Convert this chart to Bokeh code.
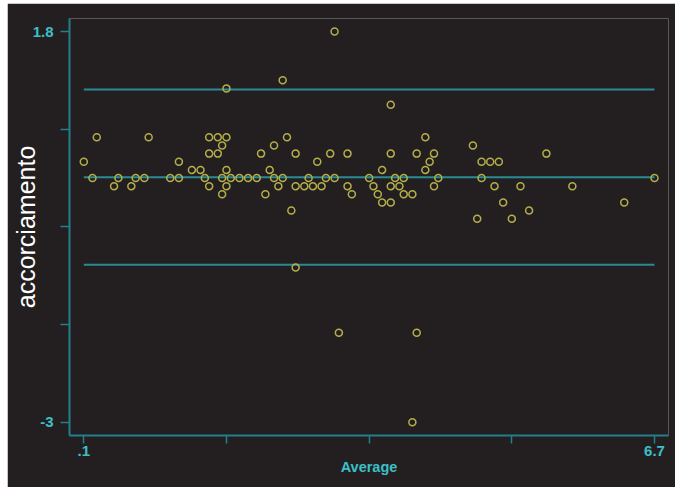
from bokeh.plotting import figure
from bokeh.models import Range1d, FixedTicker, Spacer
from bokeh.layouts import column, row
from bokeh.embed import file_html
from bokeh.resources import INLINE

# Bland-Altman data
avg = [0.1, 0.25, 0.2, 0.5, 0.45, 0.65, 0.7, 0.8, 0.85, 1.1,
       1.2, 1.2, 1.35, 1.45, 1.5, 1.55, 1.55, 1.55, 1.65, 1.65,
       1.7, 1.7, 1.7, 1.75, 1.75, 1.75, 1.75, 1.8, 1.9, 2.0,
       2.1, 2.15, 2.2, 2.25, 2.3, 2.3, 2.35, 2.4, 2.4, 2.45,
       2.5, 2.55, 2.55, 2.55, 2.65, 2.7, 2.75, 2.8, 2.85, 2.9,
       2.95, 3.0, 3.0, 3.05, 3.15, 3.15, 3.2, 3.4, 3.45, 3.5,
       3.55, 3.55, 3.65, 3.65, 3.65, 3.65, 3.7, 3.75, 3.8, 3.8,
       3.9, 3.9, 3.95, 3.95, 4.05, 4.05, 4.1, 4.15, 4.15, 4.2,
       4.6, 4.65, 4.7, 4.7, 4.8, 4.85, 4.9, 4.95, 5.05, 5.15,
       5.25, 5.45, 5.75, 6.35, 6.7]
diff = [0.2, 0.5, 0.0, 0.0, -0.1, -0.1, 0.0, 0.0, 0.5, 0.0,
        0.2, 0.0, 0.1, 0.1, 0.0, 0.5, 0.3, -0.1, 0.5, 0.3,
        0.4, 0.0, -0.2, 0.5, 0.1, -0.1, 1.1, 0.0, 0.0, 0.0,
        0.0, 0.3, -0.2, 0.1, 0.4, 0.0, -0.1, 1.2, 0.0, 0.5,
        -0.4, -1.1, 0.3, -0.1, -0.1, 0.0, -0.1, 0.2, -0.1, 0.0,
        0.3, 0.0, 1.8, -1.9, 0.3, -0.1, -0.2, 0.0, -0.1, -0.2,
        -0.3, 0.1, 0.3, -0.1, -0.3, 0.9, 0.0, -0.1, 0.0, -0.2,
        -0.2, -3.0, 0.3, -1.9, 0.5, 0.1, 0.2, 0.3, -0.1, 0.0,
        0.4, -0.5, 0.2, 0.0, 0.2, -0.1, 0.2, -0.3, -0.5, -0.1,
        -0.4, 0.3, -0.1, -0.3, 0.0]

mean_diff = 0.01
loa_upper = 1.087
loa_lower = -1.065

x_ticks = [0.1, 1.75, 3.4, 5.05, 6.7]
x_tick_labels = [".1", "", "", "", "6.7"]
y_ticks = [1.8, 0.6, -0.6, -1.8, -3.0]
y_tick_labels = ["1.8", "", "", "", "-3"]

BG = "#231f20"
AXIS = "#23808a"
LABEL = "#3cc0c8"
POINT = "#b4ae4b"
LINE = "#2a8a92"
FONT = "Liberation Sans"

p = figure(width=668, height=484, output_backend="svg", toolbar_location=None,
           x_range=Range1d(-0.0654, 6.862), y_range=Range1d(-3.163, 1.96),
           min_border_left=62, min_border_right=7, min_border_top=15, min_border_bottom=52)
p.background_fill_color = BG
p.border_fill_color = BG
p.outline_line_color = None
p.xgrid.visible = False
p.ygrid.visible = False

xa = min(avg)
xb = max(avg)
for lvl in [loa_upper, mean_diff, loa_lower]:
    p.line([xa, xb], [lvl, lvl], line_color=LINE, line_width=2)

p.scatter(avg, diff, marker="circle", size=7, fill_color=None,
          line_color=POINT, line_width=1.5)

p.xaxis.ticker = FixedTicker(ticks=x_ticks)
p.xaxis.major_label_overrides = {t: l for t, l in zip(x_ticks, x_tick_labels)}
p.yaxis.ticker = FixedTicker(ticks=y_ticks)
p.yaxis.major_label_overrides = {t: l for t, l in zip(y_ticks, y_tick_labels)}

for ax in (p.xaxis[0], p.yaxis[0]):
    ax.axis_line_color = AXIS
    ax.axis_line_width = 2
    ax.major_tick_line_color = AXIS
    ax.major_tick_line_width = 1.5
    ax.major_tick_in = 0
    ax.minor_tick_line_color = None
    ax.major_label_text_color = LABEL
    ax.major_label_text_font = FONT
    ax.major_label_text_font_style = "bold"
    ax.major_label_text_font_size = "15px"

p.xaxis.major_tick_out = 8
p.yaxis.major_tick_out = 9
p.xaxis.major_label_standoff = 2
p.yaxis.major_label_standoff = 7
p.yaxis.major_label_orientation = "horizontal"

p.xaxis.axis_label = "Average"
p.xaxis.axis_label_text_color = LABEL
p.xaxis.axis_label_text_font = FONT
p.xaxis.axis_label_text_font_style = "bold"
p.xaxis.axis_label_text_font_size = "14.5px"
p.xaxis.axis_label_standoff = 0

p.yaxis.axis_label = "accorciamento"
p.yaxis.axis_label_text_color = "#ffffff"
p.yaxis.axis_label_text_font = FONT
p.yaxis.axis_label_text_font_style = "normal"
p.yaxis.axis_label_text_font_size = "25px"
p.yaxis.axis_label_standoff = -10

layout = column(Spacer(height=3), row(Spacer(width=7), p, spacing=0), spacing=0)

open("out.html", "w").write(file_html(layout, INLINE))
